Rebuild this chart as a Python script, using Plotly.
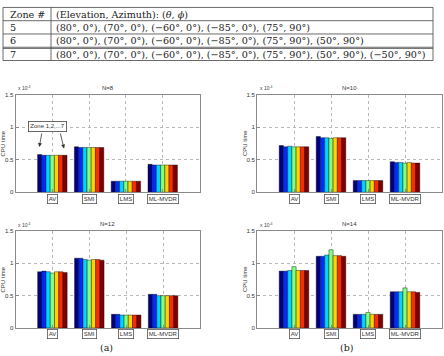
import plotly.graph_objects as go

W, H = 444, 356

# ---------------- data ----------------
table_header = ["Zone #", "(Elevation, Azimuth): (<i>θ</i>, <i>ϕ</i>)"]
table_zones = ["5", "6", "7"]
table_angles = [
    "(80°, 0°), (70°, 0°), (−60°, 0°), (−85°, 0°), (75°, 90°)",
    "(80°, 0°), (70°, 0°), (−60°, 0°), (−85°, 0°), (75°, 90°), (50°, 90°)",
    "(80°, 0°), (70°, 0°), (−60°, 0°), (−85°, 0°), (75°, 90°), (50°, 90°), (−50°, 90°)",
]

methods = ["AV", "SMI", "LMS", "ML-MVDR"]
zones = ["Zone 1", "Zone 2", "Zone 3", "Zone 4", "Zone 5", "Zone 6", "Zone 7"]
panel_titles = ["N=8", "N=10", "N=12", "N=14"]

# CPU time (x 1e-4) per method, for zones 1..7
cpu_N8 = {
    "AV":      [0.58, 0.57, 0.57, 0.57, 0.57, 0.57, 0.57],
    "SMI":     [0.70, 0.69, 0.69, 0.69, 0.69, 0.69, 0.69],
    "LMS":     [0.17, 0.17, 0.17, 0.17, 0.17, 0.17, 0.17],
    "ML-MVDR": [0.43, 0.42, 0.42, 0.42, 0.42, 0.42, 0.42],
}
cpu_N10 = {
    "AV":      [0.72, 0.70, 0.71, 0.70, 0.70, 0.70, 0.70],
    "SMI":     [0.86, 0.84, 0.84, 0.83, 0.84, 0.84, 0.84],
    "LMS":     [0.18, 0.18, 0.18, 0.18, 0.18, 0.18, 0.18],
    "ML-MVDR": [0.47, 0.46, 0.46, 0.45, 0.46, 0.45, 0.45],
}
cpu_N12 = {
    "AV":      [0.87, 0.88, 0.87, 0.85, 0.87, 0.87, 0.86],
    "SMI":     [1.08, 1.08, 1.06, 1.05, 1.06, 1.06, 1.05],
    "LMS":     [0.21, 0.21, 0.20, 0.20, 0.20, 0.20, 0.20],
    "ML-MVDR": [0.52, 0.52, 0.50, 0.50, 0.50, 0.50, 0.50],
}
cpu_N14 = {
    "AV":      [0.88, 0.88, 0.89, 0.95, 0.89, 0.89, 0.89],
    "SMI":     [1.11, 1.11, 1.13, 1.21, 1.12, 1.12, 1.11],
    "LMS":     [0.21, 0.21, 0.21, 0.24, 0.21, 0.21, 0.21],
    "ML-MVDR": [0.56, 0.56, 0.56, 0.62, 0.56, 0.56, 0.55],
}
panels = [cpu_N8, cpu_N10, cpu_N12, cpu_N14]

y_ticks = [0, 0.5, 1, 1.5]
y_tick_labels = ["0", "0.5", "1", "1.5"]

# jet colormap sampled at 7 points
zone_colors = ["#000080", "#002BFF", "#00D4FF", "#80FF80", "#FFD400", "#FF2B00", "#800000"]

# ---------------- layout helpers ----------------
def px(x):
    return x / W

def py(y):
    return 1 - y / H

# plot boxes in pixels: (left, right, top, bottom)
boxes = [
    (15.5, 199.5, 93.5, 192.5),
    (257, 442, 93.5, 192.5),
    (15.5, 200, 232, 330.5),
    (257, 442, 232, 330.5),
]

fig = go.Figure()
layout = dict(
    width=W, height=H, margin=dict(l=0, r=0, t=0, b=0),
    paper_bgcolor="white", plot_bgcolor="white",
    barmode="group", bargap=0.2, bargroupgap=0,
    showlegend=False,
    font=dict(family="Liberation Sans, Arial, sans-serif", size=6, color="#222"),
)
annotations = []
shapes = []


def note(text, x, y, xanchor="center", yanchor="middle", **kw):
    d = dict(text=text, xref=kw.pop("xref", "paper"), yref=kw.pop("yref", "paper"),
             x=x, y=y, xanchor=xanchor, yanchor=yanchor, showarrow=False)
    d.update(kw)
    annotations.append(d)


xcat = [1, 2, 3, 4]
for i, (data, title, box) in enumerate(zip(panels, panel_titles, boxes)):
    l, r, t, b = box
    n = "" if i == 0 else str(i + 1)
    xa, ya = "x" + n, "y" + n
    for z in range(7):
        fig.add_trace(go.Bar(
            x=xcat, y=[data[m][z] for m in methods], name=zones[z],
            marker=dict(color=zone_colors[z], line=dict(color="black", width=0.4)),
            xaxis=xa, yaxis=ya, offsetgroup=str(z),
        ))
    axis_common = dict(
        showline=True, linecolor="#8a8a8a", linewidth=1, mirror=True,
        ticks="inside", ticklen=3, tickcolor="#8a8a8a",
        showgrid=True, gridcolor="#b8b8b8", griddash="dot", gridwidth=0.8,
        zeroline=False, fixedrange=True,
    )
    layout["xaxis" + n] = dict(
        axis_common, domain=[px(l), px(r)], range=[0, 5],
        tickvals=xcat, showticklabels=False, anchor=ya,
    )
    layout["yaxis" + n] = dict(
        axis_common, domain=[py(b), py(t)], range=[0, 1.5],
        tickvals=y_ticks, ticktext=y_tick_labels, anchor=xa,
        tickfont=dict(size=6, color="#333"),
    )
    note(title, px((l + r) / 2), py(t - 7.5), font=dict(size=6, color="#333"))
    note("x 10<sup>-4</sup>", px(l + 0.5), py(t - 1.5), xanchor="left", yanchor="bottom",
         font=dict(size=5, color="#444"))
    note("CPU time", px(l - 12.5), py((t + b) / 2), textangle=-90,
         font=dict(size=6, color="#333"))
    for k, m in enumerate(methods):
        note(m, xcat[k], py(b + 1.5), yanchor="top", xref=xa,
             bordercolor="#555", borderwidth=0.8, borderpad=1,
             bgcolor="white", font=dict(size=6, color="#333"))

# zone annotation in first panel
note("Zone 1,2,...7", px(47), py(126), bordercolor="#444", borderwidth=0.8, borderpad=1.5,
     bgcolor="white", font=dict(size=6, color="#333"))
for (hx, hy, tx, ty) in [(39.3, 146.5, 42, 131.5), (64, 148, 60, 131.5)]:
    annotations.append(dict(text="", xref="paper", yref="paper",
                            x=px(hx), y=py(hy), ax=tx - hx, ay=ty - hy,
                            showarrow=True, arrowhead=2, arrowsize=1,
                            arrowwidth=0.8, arrowcolor="#333"))

# captions
cap_font = dict(family="DejaVu Serif, serif", size=9.5, color="#222")
note("(a)", px(106), py(350), font=cap_font)
note("(b)", px(347), py(350), font=cap_font)

# ---------------- table ----------------
tl, tr, ttop, row_h, col_x = 3, 433, 4.5, 13.5, 51
n_rows = 1 + len(table_zones)
line_style = dict(color="#444", width=0.8)
for k in range(n_rows + 1):
    yy = ttop + k * row_h
    shapes.append(dict(type="line", xref="paper", yref="paper",
                       x0=px(tl), x1=px(tr), y0=py(yy), y1=py(yy), line=line_style))
    if k == n_rows - 1:
        shapes.append(dict(type="line", xref="paper", yref="paper",
                           x0=px(tl), x1=px(tr), y0=py(yy + 1.2), y1=py(yy + 1.2), line=line_style))
for xx in [tl, col_x, tr]:
    shapes.append(dict(type="line", xref="paper", yref="paper",
                       x0=px(xx), x1=px(xx), y0=py(ttop), y1=py(ttop + n_rows * row_h), line=line_style))

rows = [table_header] + [[z, a] for z, a in zip(table_zones, table_angles)]
serif = dict(family="DejaVu Serif, serif", size=9.6, color="#222")
for k, row in enumerate(rows):
    yc = ttop + (k + 0.5) * row_h + (0.6 if k == n_rows - 1 else 0)
    note(row[0], px(tl + 5), py(yc), xanchor="left", font=serif)
    note(row[1], px(col_x + 3), py(yc), xanchor="left", font=serif)

layout["annotations"] = annotations
layout["shapes"] = shapes
fig.update_layout(**layout)
fig.write_html("out.html")
